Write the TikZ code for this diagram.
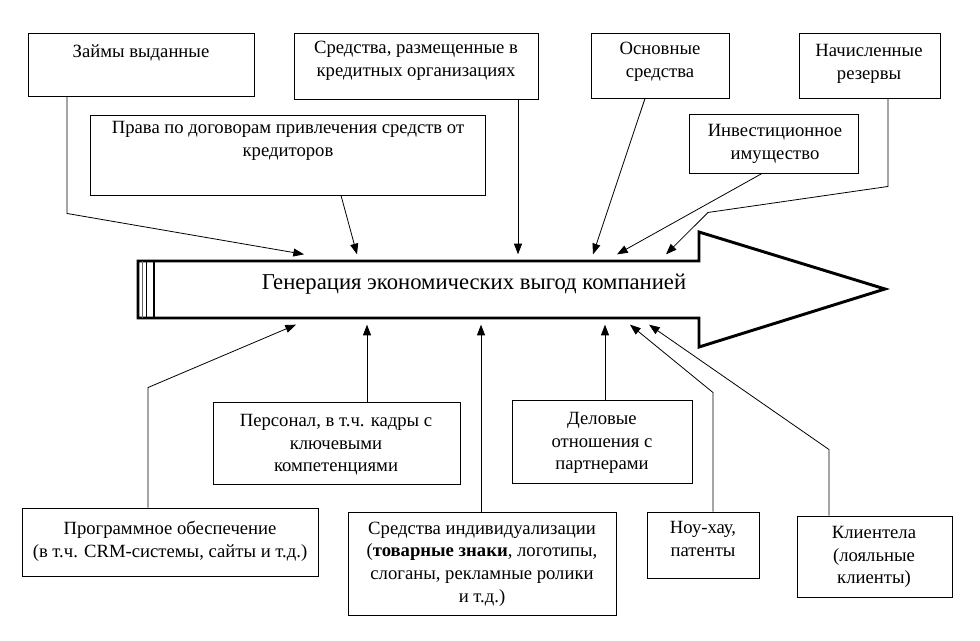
\documentclass[tikz,border=0pt]{standalone}
\usepackage{fontspec}
\setmainfont{Liberation Serif}
\usetikzlibrary{arrows.meta}
\usetikzlibrary{fit}
\tikzset{item box/.style={draw,line width=.7pt,inner sep=0pt}}
\tikzset{item text/.style={align=center,inner sep=0pt,
    font=\fontsize{14}{17}\selectfont}}
\tikzset{feed line/.style={line width=.6pt,
    -{Triangle[length=8pt,width=6pt]}}}
\tikzset{big arrow/.style={line width=2.2pt,line join=miter}}

\begin{document}
\begin{tikzpicture}[x=.75pt,y=-.75pt]
  \useasboundingbox (0,0) rectangle (980,641);
  % the big arrow with its striped tail
  \draw[big arrow] (138,261) -- (699,261) -- (699,232) -- (885,289)
    -- (699,347) -- (699,318) -- (138,318) -- cycle;
  \draw[big arrow] (154,261) -- (154,318);
  \draw[line width=1.2pt] (146.5,261) -- (146.5,318);
  \draw[line width=.5pt,black!60] (142.5,261) -- (142.5,318);
  \node[fit={(154,261) (699,318)},inner sep=0pt,outer ysep=5pt] (body) {};
  \node[font=\fontsize{17}{20}\selectfont] at (474,284) (gen)
    {Генерация экономических выгод компанией};

  % upper boxes
  \node[item box,fit={(28,33) (254,96)}] (zaim) {};
  \node[item text] at (141,53) (zaim text) {Займы выданные};
  \node[item box,fit={(294,33) (538,99)}] (sredkr) {};
  \node[item text] at (416,61) (sredkr text)
    {Средства, размещенные в\\кредитных организациях};
  \node[item box,fit={(591,33) (729,98)}] (osn) {};
  \node[item text] at (660,62) (osn text) {Основные\\средства};
  \node[item box,fit={(799,33) (940,98)}] (nach) {};
  \node[item text] at (869,64) (nach text) {Начисленные\\резервы};
  \node[item box,fit={(90,115) (485,195)}] (prava) {};
  \node[item text] at (288,141) (prava text)
    {Права по договорам привлечения средств от\\кредиторов};
  \node[item box,fit={(689,114) (858,173)}] (invest) {};
  \node[item text] at (775,144) (invest text) {Инвестиционное\\имущество};

  % lower boxes
  \node[item box,fit={(22,508) (318,576)}] (prog) {};
  \node[item text] at (170,541) (prog text)
    {Программное обеспечение\\(в т.ч. CRM-системы, сайты и т.д.)};
  \node[item box,fit={(213,402) (460,484)}] (pers) {};
  \node[item text] at (336,445) (pers text)
    {Персонал, в т.ч. кадры с\\ключевыми\\компетенциями};
  \node[item box,fit={(348,512) (616,615)}] (indiv) {};
  \node[item text] at (482,564) (indiv text)
    {Средства индивидуализации\\(\textbf{товарные знаки}, логотипы,\\
     слоганы, рекламные ролики\\и т.д.)};
  \node[item box,fit={(512,400) (692,483)}] (delo) {};
  \node[item text] at (602,443) (delo text)
    {Деловые\\отношения с\\партнерами};
  \node[item box,fit={(647,512) (759,578)}] (nou) {};
  \node[item text] at (703,539) (nou text) {Ноу-хау,\\патенты};
  \node[item box,fit={(797,516) (952,597)}] (klient) {};
  \node[item text] at (874,557) (klient text)
    {Клиентела\\(лояльные\\клиенты)};

  % connectors
  \draw[feed line] (zaim.south -| 67,0) -- ++(0,117) -- (body.north -| 304,0);
  \draw[feed line] (prava.south -| 341,0) -- (body.north -| 357,0);
  \draw[feed line] (sredkr.south -| 518,0) -- (body.north -| 518,0);
  \draw[feed line] (osn.south -| 645,0) -- (body.north -| 593,0);
  \draw[feed line] (invest.south -| 762,0) -- (body.north -| 617,0);
  \draw[feed line] (nach.south -| 888,0) -- ++(0,88) -- ++(-180,26)
    -- (body.north -| 666,0);
  \draw[feed line] (prog.north -| 148,0) -- ++(0,-120) -- (body.south -| 296,0);
  \draw[feed line] (pers.north -| 367,0) -- (body.south -| 367,0);
  \draw[feed line] (indiv.north -| 481,0) -- (body.south -| 481,0);
  \draw[feed line] (delo.north -| 605,0) -- (body.south -| 605,0);
  \draw[feed line] (nou.north -| 713,0) -- ++(0,-119) -- (body.south -| 630,0);
  \draw[feed line] (klient.north -| 829,0) -- ++(0,-66) -- (body.south -| 649,0);
\end{tikzpicture}
\end{document}
